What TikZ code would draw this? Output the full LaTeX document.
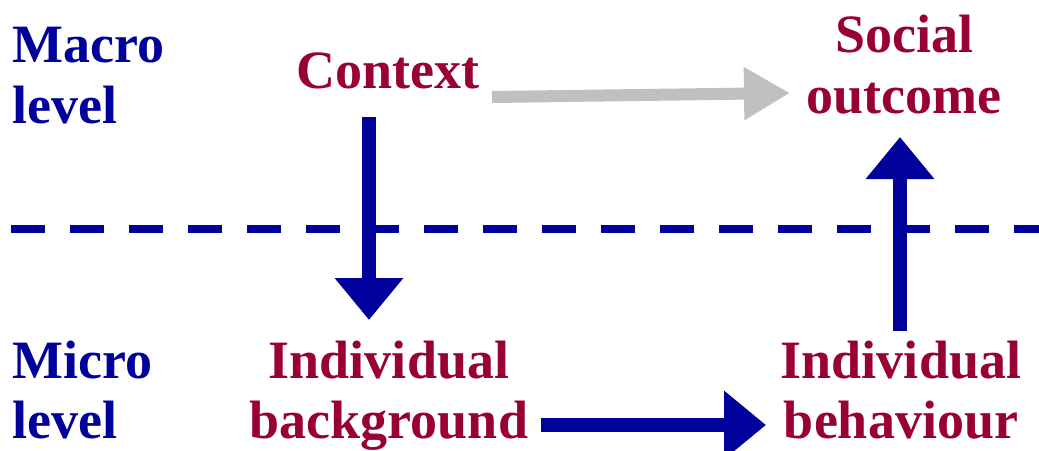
\documentclass[tikz,border=0pt]{standalone}
\usepackage{fontspec}
\setmainfont{Liberation Serif}
\usetikzlibrary{arrows.meta}
\definecolor{mblue}{HTML}{00009A}
\definecolor{mred}{HTML}{990033}
\definecolor{mgray}{HTML}{C0C0C0}
\begin{document}
\begin{tikzpicture}[x=1pt,y=-1pt,
  lvl/.style={text=mblue,font=\fontsize{54}{62}\selectfont\bfseries,anchor=base west,inner sep=0pt},
  lab/.style={text=mred,font=\fontsize{54}{62}\selectfont\bfseries,anchor=base,inner sep=0pt},
  bigarrow/.style={line width=14pt,-{Triangle[length=42pt,width=66pt]}},
  grayarrow/.style={draw=mgray,line width=12pt,-{Triangle[length=46pt,width=50pt]}}]
\useasboundingbox (0,0) rectangle (1039,450);
\node[lvl] (macro1) at (12,62) {Macro};
\node[lvl] (macro2) at (12,123) {level};
\node[lvl] (micro1) at (12,378) {Micro};
\node[lvl] (micro2) at (12,438) {level};
\node[lab] (ctx) at (388,88) {Context};
\node[lab] (soc1) at (904,52) {Social};
\node[lab] (soc2) at (904,113) {outcome};
\node[lab] (ib1) at (389,378) {Individual};
\node[lab] (ib2) at (389,438) {background};
\node[lab] (ibh1) at (901,378) {Individual};
\node[lab] (ibh2) at (901,438) {behaviour};
\coordinate (dl) at (11,229);
\coordinate (dr) at (1039,229);
\draw[mblue,line width=8pt,dash pattern=on 34pt off 25pt] (dl) -- (dr);
\coordinate (ctxs) at (369,117);
\coordinate (ibn) at (369,320);
\draw[mblue,bigarrow] (ctxs) -- (ibn);
\coordinate (ibhn) at (900,331);
\coordinate (socs) at (900,137);
\draw[mblue,bigarrow] (ibhn) -- (socs);
\coordinate (ib2e) at (541,425);
\coordinate (ibh2w) at (766,425);
\draw[mblue,bigarrow] (ib2e) -- (ibh2w);
\coordinate (ctxe) at (492,97);
\coordinate (soc2w) at (790,93);
\draw[grayarrow] (ctxe) -- (soc2w);
\end{tikzpicture}
\end{document}
